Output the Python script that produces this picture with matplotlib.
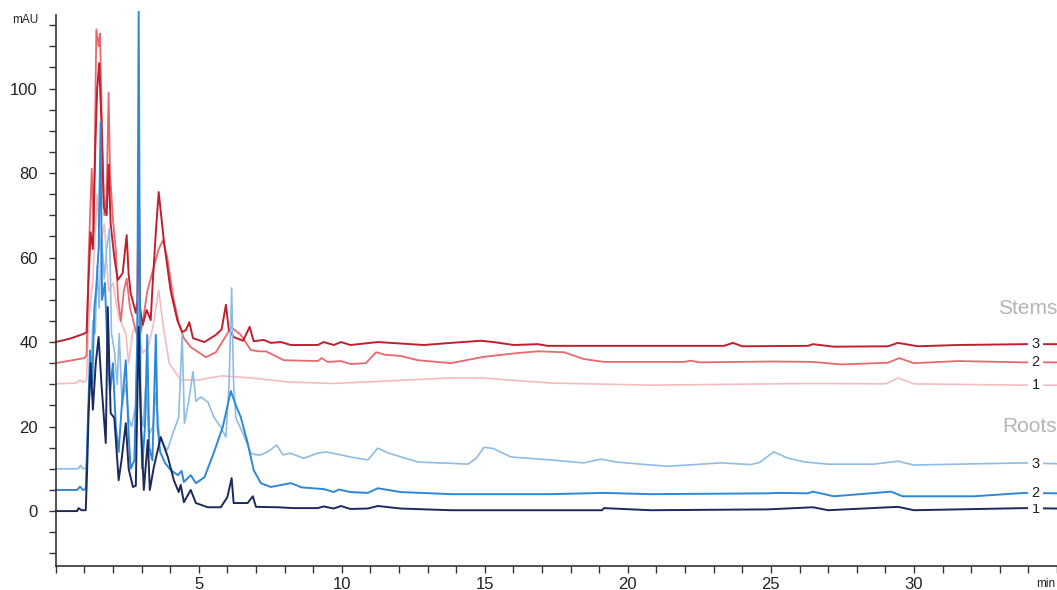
import matplotlib
matplotlib.use("Agg")
import matplotlib.pyplot as plt
from matplotlib.ticker import MultipleLocator

plt.rcParams['font.family'] = ['Liberation Sans', 'DejaVu Sans']

# ---- data: (time [min], absorbance [mAU]) ----
stems3 = [(0, 40.0), (0.5, 40.8), (1.0, 42.0), (1.08, 42.3), (1.15, 55), (1.22, 66), (1.3, 62),
          (1.38, 85), (1.45, 100), (1.52, 106), (1.6, 92), (1.68, 72), (1.78, 70), (1.85, 82),
          (1.92, 68), (2.05, 60), (2.17, 54.7), (2.34, 56.3), (2.48, 65.3), (2.55, 56), (2.62, 51.6),
          (2.8, 46.9), (2.86, 50), (2.9, 81), (2.95, 48), (3.04, 44), (3.18, 47.6), (3.32, 45.2),
          (3.4, 55), (3.5, 66), (3.6, 75.5), (3.78, 64), (4.02, 52), (4.25, 45.2), (4.42, 42.4),
          (4.55, 42.8), (4.67, 44.7), (4.8, 40.9), (5.2, 40.0), (5.6, 41.7), (5.8, 43.0), (5.95, 48.8),
          (6.05, 43.0), (6.22, 41.2), (6.55, 40.3), (6.78, 43.6), (6.92, 40.2), (7.27, 40.5),
          (7.52, 39.8), (7.87, 40.0), (8.22, 39.3), (9.16, 39.3), (9.37, 40.0), (9.72, 39.3),
          (9.97, 40.0), (10.3, 39.3), (11.26, 40.0), (12.87, 39.3), (13.81, 39.8), (14.86, 40.3),
          (15.3, 40.0), (16.01, 39.3), (16.85, 39.5), (17.2, 39.1), (20.8, 39.1), (23.36, 39.1),
          (23.67, 39.8), (24.0, 39.0), (26.29, 39.1), (26.47, 39.5), (27.2, 38.9), (29.09, 39.0),
          (29.44, 39.8), (30.14, 39.0), (31.54, 39.3), (33.85, 39.5), (35.0, 39.5)]

stems2 = [(0, 35.0), (0.5, 35.6), (1.0, 36.2), (1.08, 36.8), (1.15, 60), (1.26, 81), (1.33, 66),
          (1.42, 114), (1.5, 110), (1.55, 113), (1.62, 90), (1.7, 70), (1.78, 75), (1.85, 99),
          (1.9, 80), (2.0, 69), (2.1, 62), (2.18, 50), (2.28, 45), (2.38, 52), (2.48, 55), (2.6, 48),
          (2.75, 44), (2.9, 40), (3.05, 45), (3.2, 52), (3.4, 57), (3.6, 62), (3.75, 64.1), (3.9, 60),
          (4.1, 51), (4.3, 44.5), (4.48, 40.9), (4.72, 38.8), (5.25, 36.4), (5.6, 37.6), (6.0, 42.0),
          (6.12, 43.6), (6.47, 41.7), (6.82, 38.1), (7.1, 37.8), (7.35, 37.8), (7.77, 36.4),
          (7.97, 35.7), (9.16, 35.5), (9.3, 36.2), (9.5, 35.3), (9.97, 35.5), (10.31, 34.8),
          (10.84, 35.0), (11.2, 37.6), (11.5, 37.0), (12.06, 36.7), (12.66, 35.7), (13.81, 35.0),
          (14.96, 36.5), (16.15, 37.4), (16.85, 37.8), (17.76, 37.6), (18.45, 36.0), (19.16, 35.3),
          (20.8, 35.3), (21.96, 35.3), (22.2, 35.6), (22.5, 35.2), (25.1, 35.4), (26.47, 35.3),
          (27.45, 34.7), (29.09, 35.1), (29.48, 36.2), (30.0, 35.0), (31.54, 35.5), (33.85, 35.2),
          (35.0, 35.2)]

stems1 = [(0, 30.1), (0.7, 30.3), (0.85, 31.0), (0.95, 30.5), (1.08, 31.0), (1.15, 45), (1.3, 55),
          (1.45, 75), (1.55, 62), (1.7, 68), (1.85, 52), (2.0, 54), (2.2, 46), (2.45, 42), (2.55, 35),
          (2.7, 42.8), (2.85, 42.8), (3.04, 37.4), (3.23, 38.8), (3.4, 43.6), (3.6, 52.3),
          (3.78, 42.8), (3.97, 35.0), (4.37, 31.0), (4.97, 31.0), (5.8, 32.0), (6.82, 31.5),
          (8.22, 30.5), (9.72, 30.2), (13.81, 31.5), (14.9, 31.5), (17.3, 30.3), (20.8, 29.8),
          (26.47, 30.2), (29.0, 30.1), (29.44, 31.5), (30.0, 30.1), (33.85, 29.8), (35.0, 29.8)]

roots3 = [(0, 10.0), (0.78, 10.0), (0.87, 10.8), (0.95, 10.0), (1.08, 10.2), (1.15, 25), (1.22, 30),
          (1.3, 45), (1.38, 42), (1.45, 58), (1.52, 48), (1.6, 65), (1.7, 55), (1.78, 62), (1.88, 67),
          (1.95, 42), (2.05, 38), (2.15, 30), (2.22, 42), (2.32, 25), (2.45, 30), (2.55, 22),
          (2.65, 20), (2.8, 25), (2.88, 50), (2.95, 25), (3.05, 20), (3.15, 30), (3.25, 18),
          (3.4, 20), (3.5, 28), (3.62, 18), (3.75, 16), (3.9, 14.4), (4.1, 18.5), (4.3, 22.2),
          (4.42, 41.7), (4.5, 20.8), (4.65, 26), (4.8, 33), (4.9, 26), (5.07, 27), (5.32, 25.8),
          (5.53, 22.2), (5.77, 19.9), (5.95, 17.5), (6.06, 30), (6.15, 52.8), (6.22, 30), (6.3, 22),
          (6.54, 18.5), (6.82, 13.7), (7.0, 13.3), (7.17, 13.3), (7.4, 14.0), (7.73, 15.6),
          (7.94, 13.3), (8.2, 13.7), (8.67, 12.5), (9.16, 13.7), (9.45, 14.0), (9.97, 13.3),
          (10.3, 12.8), (10.91, 12.1), (11.26, 14.9), (11.6, 13.8), (12.66, 11.6), (13.81, 11.3),
          (14.41, 11.1), (14.7, 12.5), (14.97, 15.1), (15.3, 14.8), (15.91, 12.8), (17.3, 12.1),
          (18.45, 11.4), (19.06, 12.3), (19.6, 11.6), (20.45, 11.1), (21.4, 10.6), (23.25, 11.4),
          (24.3, 11.0), (24.6, 11.5), (25.1, 14.0), (25.6, 12.5), (26.2, 11.6), (26.99, 11.1),
          (28.6, 11.1), (29.44, 11.8), (30.0, 10.9), (33.85, 11.4), (35.0, 11.2)]

roots2 = [(0, 5.0), (0.75, 5.0), (0.85, 5.8), (0.95, 5.0), (1.05, 5.2), (1.12, 20), (1.2, 38),
          (1.28, 30), (1.35, 48), (1.42, 53), (1.5, 62), (1.57, 92), (1.62, 50), (1.72, 54),
          (1.8, 40), (1.9, 28), (2.0, 35), (2.1, 20), (2.2, 14), (2.3, 24), (2.45, 35.7), (2.55, 18),
          (2.62, 10), (2.75, 12), (2.85, 40), (2.9, 118.2), (2.96, 30), (3.02, 10), (3.12, 20),
          (3.2, 41.7), (3.27, 15), (3.38, 12), (3.5, 41.7), (3.56, 20), (3.65, 14), (3.82, 11.4),
          (4.02, 9.7), (4.27, 8.5), (4.4, 9.5), (4.48, 6.9), (4.72, 8.5), (4.9, 6.6), (5.2, 8.0),
          (5.52, 13.7), (5.84, 19.9), (6.12, 28.4), (6.3, 25.0), (6.47, 22.2), (6.71, 16.1),
          (6.92, 9.7), (7.17, 6.6), (7.52, 5.7), (7.9, 6.2), (8.22, 6.6), (8.6, 5.6), (9.37, 5.2),
          (9.72, 4.5), (9.9, 5.1), (10.3, 4.5), (10.91, 4.3), (11.26, 5.4), (12.06, 4.5),
          (13.81, 4.0), (17.3, 4.0), (19.16, 4.3), (20.8, 4.0), (24.9, 4.2), (25.3, 4.3),
          (26.29, 4.2), (26.47, 4.6), (27.2, 3.5), (29.2, 4.6), (29.6, 3.5), (32.1, 3.5),
          (33.85, 4.3), (35.0, 4.2)]

roots1 = [(0, 0.0), (0.75, 0.0), (0.8, 0.7), (0.9, 0.2), (1.05, 0.2), (1.1, 10), (1.15, 23.2),
          (1.22, 35), (1.3, 24), (1.4, 35), (1.5, 41.2), (1.6, 30), (1.75, 16.1), (1.82, 48.3),
          (1.92, 23.2), (2.05, 22), (2.2, 7.3), (2.3, 12), (2.45, 20.8), (2.55, 10), (2.7, 5.7),
          (2.8, 6.0), (2.9, 43.6), (2.98, 20), (3.08, 5.0), (3.22, 16.8), (3.29, 5.0), (3.43, 10.4),
          (3.67, 17.5), (3.92, 12.8), (4.13, 7.3), (4.3, 4.5), (4.37, 6.2), (4.48, 2.1), (4.72, 5.0),
          (4.9, 1.9), (5.32, 0.9), (5.77, 0.9), (6.0, 3.3), (6.15, 7.8), (6.22, 1.9), (6.71, 1.9),
          (6.89, 3.5), (7.0, 1.0), (7.76, 0.9), (8.32, 0.7), (9.16, 0.7), (9.37, 1.1), (9.72, 0.6),
          (9.97, 1.2), (10.3, 0.5), (10.91, 0.6), (11.26, 1.2), (12.06, 0.6), (13.81, 0.2),
          (19.1, 0.2), (19.16, 0.7), (20.8, 0.2), (24.9, 0.4), (26.47, 0.9), (27.0, 0.2),
          (29.44, 1.0), (30.0, 0.2), (33.85, 0.7), (35.0, 0.6)]

trace_labels = ["1", "2", "3"]
group_names = ["Stems", "Roots"]

# ---- figure ----
W, H = 1057, 590
fig = plt.figure(figsize=(W / 100, H / 100), dpi=100)
ax = fig.add_axes([55.7 / W, (H - 566) / H, 1 - 55.7 / W, (566 - 15) / H])

series = [
    (stems1, "#f4bcbf", 1.2),
    (stems2, "#e8686e", 1.3),
    (stems3, "#c0202e", 1.4),
    (roots3, "#8dbde4", 1.2),
    (roots2, "#2e88d8", 1.4),
    (roots1, "#1b2a5c", 1.4),
]
for data, color, lw in series:
    t = [p[0] for p in data]
    v = [p[1] for p in data]
    ax.plot(t, v, color=color, lw=lw, clip_on=False, solid_joinstyle="round")

ax.set_xlim(0, 35.0)
ax.set_ylim(-13.0, 117.4)

ax.xaxis.set_major_locator(MultipleLocator(5))
ax.xaxis.set_minor_locator(MultipleLocator(1))
ax.yaxis.set_major_locator(MultipleLocator(20))
ax.yaxis.set_minor_locator(MultipleLocator(5))
for s in ["top", "right"]:
    ax.spines[s].set_visible(False)
for s in ["left", "bottom"]:
    ax.spines[s].set_color("#333333")
    ax.spines[s].set_linewidth(1.2)
ax.tick_params(axis="both", which="both", direction="out", color="#333333", width=1.0, length=5)
ax.tick_params(axis="y", which="major", labelsize=12, pad=8, labelcolor="#222222")
ax.tick_params(axis="x", which="major", labelsize=12, pad=3, labelcolor="#222222")
ax.set_xticks([5, 10, 15, 20, 25, 30])
ax.set_yticks([0, 20, 40, 60, 80, 100])

# right-hand trace labels
label_x = 34.25
end_vals = [(stems1, "1"), (stems2, "2"), (stems3, "3"), (roots1, "1"), (roots2, "2"), (roots3, "3")]
for data, lab in end_vals:
    ax.text(label_x, data[-1][1], lab, ha="center", va="center", fontsize=10.5, color="#222222",
            bbox=dict(boxstyle="square,pad=0.25", fc="white", ec="none"), clip_on=False, zorder=5)

ax.text(35.0, 48.0, group_names[0], ha="right", va="center", fontsize=15, color="#b4b4b4")
ax.text(35.0, 20.1, group_names[1], ha="right", va="center", fontsize=15, color="#b4b4b4")

fig.text(25 / W, 1 - 20 / H, "mAU", ha="center", va="center", fontsize=8.5, color="#222222")
fig.text(1046 / W, 1 - 584 / H, "min", ha="center", va="center", fontsize=8.5, color="#222222")

fig.savefig("out.png", dpi=100)
